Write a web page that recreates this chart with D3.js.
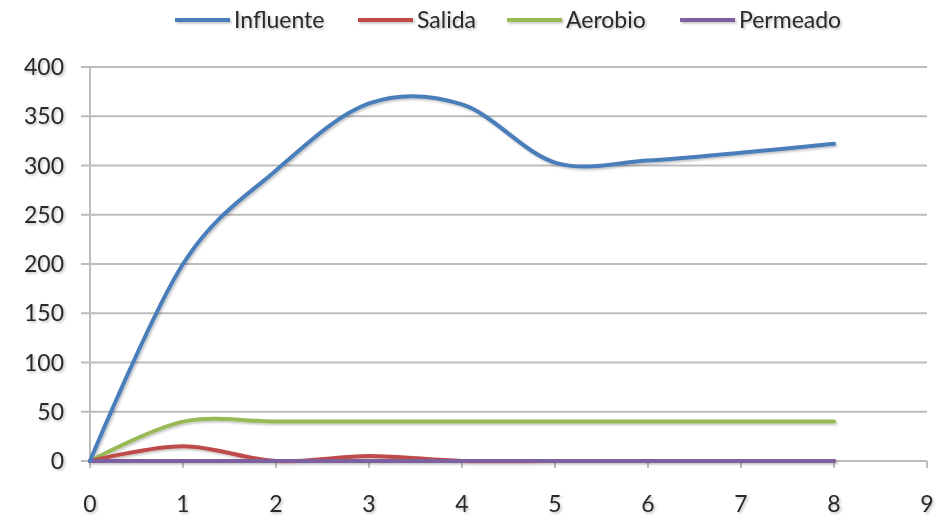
<!DOCTYPE html>
<html><head><meta charset="utf-8">
<script src="https://cdn.jsdelivr.net/npm/d3@7"></script>
<style>body{margin:0;background:#fff}</style>
</head><body><svg id="c" width="940" height="517"></svg>
<script>
const xValues = [0, 1, 2, 3, 4, 5, 6, 7, 8];
const influente = [0, 200, 295, 363, 362, 303, 305, 313, 322];
const salida = [0, 15, 0, 5, 0, 0, 0, 0, 0];
const aerobio = [0, 40, 40, 40, 40, 40, 40, 40, 40];
const permeado = [0, 0, 0, 0, 0, 0, 0, 0, 0];
const seriesNames = ["Influente", "Salida", "Aerobio", "Permeado"];
const seriesColors = ["#4A7EBB", "#BE4B48", "#98B954", "#7D60A0"];
const xTicks = [0,1,2,3,4,5,6,7,8,9];
const yTicks = [0,50,100,150,200,250,300,350,400];

const svg = d3.select("#c");
const font = "Lato, 'Open Sans', sans-serif";
const x = d3.scaleLinear().domain([0, 9]).range([90, 927]);
const y = d3.scaleLinear().domain([0, 400]).range([461, 67]);

const defs = svg.append("defs");
const f = defs.append("filter").attr("id","sh").attr("x","-5%").attr("y","-5%").attr("width","110%").attr("height","120%");
f.append("feDropShadow").attr("dx",1.5).attr("dy",1.5).attr("stdDeviation",0.8).attr("flood-color","#000").attr("flood-opacity",0.25);

// grid
svg.append("g").selectAll("line").data(yTicks).join("line")
  .attr("x1", 81).attr("x2", x(9)).attr("y1", d=>y(d)).attr("y2", d=>y(d))
  .attr("stroke", "#BDBDBD").attr("stroke-width", 2);
// y axis line
svg.append("line").attr("x1", x(0)).attr("x2", x(0)).attr("y1", y(400)).attr("y2", y(0)+6)
  .attr("stroke", "#BDBDBD").attr("stroke-width", 2);
// x ticks
svg.append("g").selectAll("line").data(xTicks).join("line")
  .attr("x1", d=>x(d)).attr("x2", d=>x(d)).attr("y1", y(0)).attr("y2", y(0)+7)
  .attr("stroke", "#BDBDBD").attr("stroke-width", 2);

// tick labels
svg.append("g").attr("filter","url(#sh)").selectAll("text").data(yTicks).join("text")
  .attr("x", 64).attr("y", d=>y(d)).attr("dy","0.35em").attr("text-anchor","end")
  .attr("font-family", font).attr("font-size", 23).attr("fill", "#2a2a2a").text(d=>d);
svg.append("g").attr("filter","url(#sh)").selectAll("text").data(xTicks).join("text")
  .attr("x", d=>x(d)).attr("y", 512).attr("text-anchor","middle")
  .attr("font-family", font).attr("font-size", 23).attr("fill", "#2a2a2a").text(d=>d);

// lines
const allSeries = [influente, salida, aerobio, permeado];
const line = d3.line().x((d,i)=>x(xValues[i])).y(d=>y(d)).curve(d3.curveCatmullRom.alpha(0));
const order = [2, 1, 3, 0];
svg.append("g").attr("filter","url(#sh)").selectAll("path").data(order).join("path")
  .attr("d", k=>line(allSeries[k])).attr("fill","none")
  .attr("stroke", k=>seriesColors[k]).attr("stroke-width", 4).attr("stroke-linecap","round");

// legend
const legX = [175, 358, 507, 680];
const lg = svg.append("g").attr("filter","url(#sh)");
seriesNames.forEach((n,i)=>{
  lg.append("line").attr("x1", legX[i]).attr("x2", legX[i]+55).attr("y1", 20).attr("y2", 20)
    .attr("stroke", seriesColors[i]).attr("stroke-width", 4);
  lg.append("text").attr("x", legX[i]+59).attr("y", 20).attr("dy","0.35em")
    .attr("font-family", font).attr("font-size", 23).attr("fill","#2a2a2a").text(n);
});
</script></body></html>
